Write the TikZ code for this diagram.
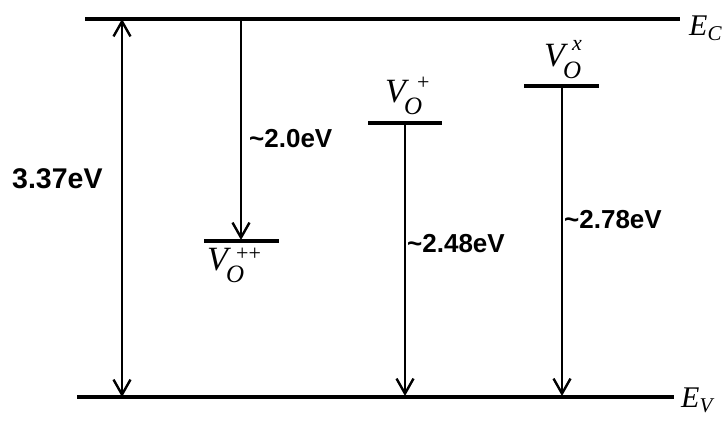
\documentclass[tikz,border=0pt]{standalone}
\usepackage{amsmath}
\usepackage{fontspec}
\setmainfont{Liberation Serif}
\setsansfont{Liberation Sans}
\usetikzlibrary{arrows.meta}
\newcommand\vlab[3]{\textit{V}\rlap{\kern-5pt\raisebox{-12pt}{\fontsize{25}{25}\selectfont\textit{O}}}\kern#2\raisebox{#3}{\fontsize{22}{22}\selectfont #1}}
\tikzset{
  band/.style={line width=3.5pt},
  level/.style={line width=4pt},
  tip/.style={},
  trans/.style={line width=2.4pt,-{Straight Barb[length=15pt,width=17pt,line width=2.4pt]}},
  gap/.style={line width=2.4pt,{Straight Barb[length=15pt,width=17pt,line width=2.4pt]}-{Straight Barb[length=15pt,width=17pt,line width=2.4pt]}},
  elabel/.style={anchor=base west,inner sep=0pt,font=\sffamily\bfseries\fontsize{26}{26}\selectfont},
  vlabel/.style={anchor=base west,inner sep=0pt,font=\fontsize{34}{34}\selectfont},
  blabel/.style={anchor=base west,inner sep=0pt,font=\fontsize{30}{30}\selectfont}
}
\begin{document}
\begin{tikzpicture}[x=1pt,y=-1pt]
\useasboundingbox (0,0) rectangle (728,421);
% band edges
\coordinate (ecL) at (85,19);
\coordinate (ecR) at (680,19);
\coordinate (evL) at (77,397);
\coordinate (evR) at (674,397);
\draw[band] (ecL) -- (ecR);
\draw[band] (evL) -- (evR);
\node[blabel] (EC) at (689,35) {$\textit{E}_{\textit{C}}$};
\node[blabel] (EV) at (681,407) {$\textit{E}_{\textit{V}}$};
% defect levels
\coordinate (l2L) at (204,241);
\coordinate (l2R) at (279,241);
\coordinate (l1L) at (368,123);
\coordinate (l1R) at (442,123);
\coordinate (l0L) at (524,86);
\coordinate (l0R) at (599,86);
\draw[level] (l2L) -- (l2R);
\draw[level] (l1L) -- (l1R);
\draw[level] (l0L) -- (l0R);
\node[vlabel] (V2) at (207,270) {\vlab{++}{5pt}{10pt}};
\node[vlabel] (V1) at (385,102) {\vlab{+}{8pt}{13pt}};
\node[vlabel] (V0) at (544,66) {\vlab{\textit{x}}{4pt}{16pt}};
% transitions
\coordinate (gT) at (122,19);
\coordinate (gB) at (122,397);
\draw[gap] (gT) -- (gB);
\coordinate (aT) at (241,19);
\coordinate (aB) at (241,240);
\draw[trans] (aT) -- (aB);
\coordinate (bT) at (405,123);
\coordinate (bB) at (405,396);
\draw[trans] (bT) -- (bB);
\coordinate (cT) at (562,86);
\coordinate (cB) at (562,396);
\draw[trans] (cT) -- (cB);
% energy labels
\node[elabel,font=\sffamily\bfseries\fontsize{28.5}{28.5}\selectfont] (g) at (12,188) {3.37eV};
\node[elabel] (a) at (249,147) {\textasciitilde 2.0eV};
\node[elabel] (b) at (407,252) {\textasciitilde 2.48eV};
\node[elabel] (c) at (564,228) {\textasciitilde 2.78eV};
\end{tikzpicture}
\end{document}
